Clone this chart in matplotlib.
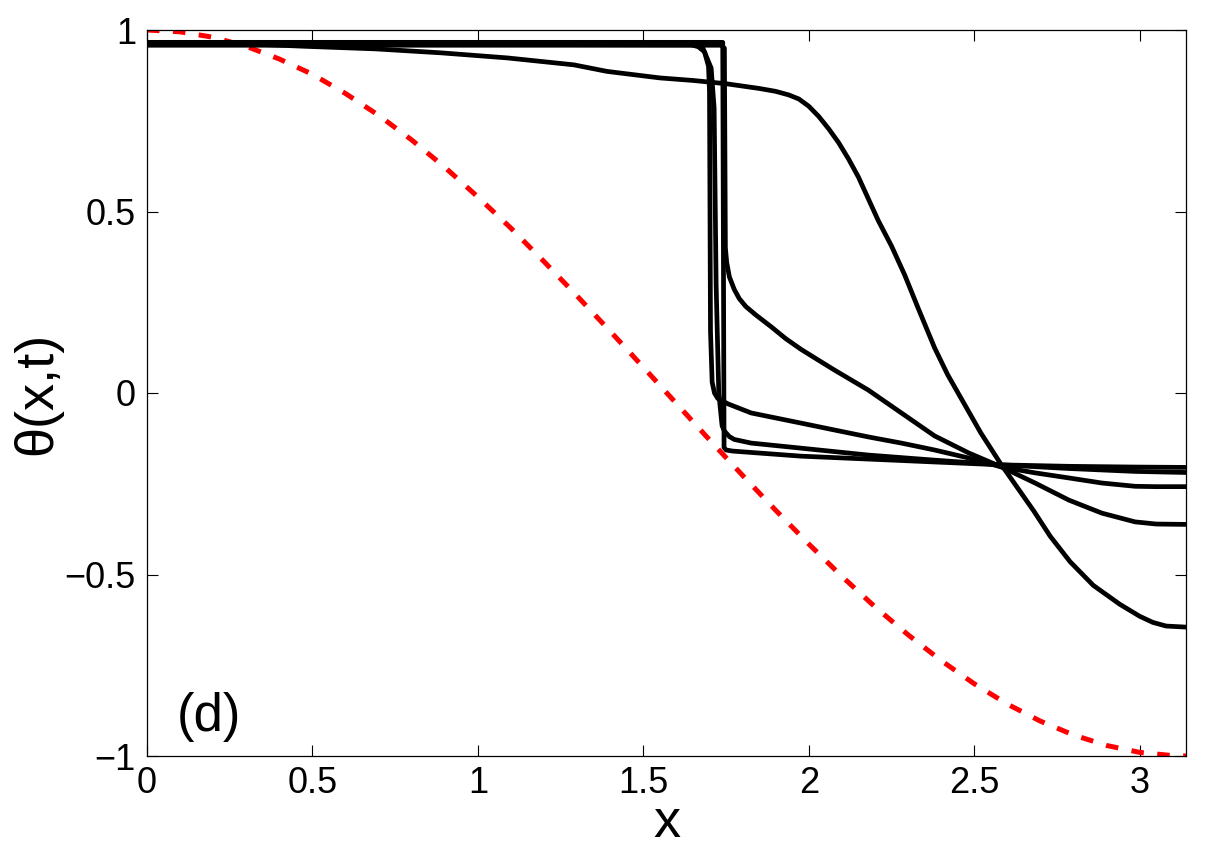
import matplotlib
matplotlib.use("Agg")
import matplotlib.pyplot as plt

plt.rcParams['font.family'] = ['Liberation Sans', 'DejaVu Sans']
plt.rcParams['axes.unicode_minus'] = True

# ---- data ----
# red dashed initial profile
red_x = [0.0, 0.1, 0.2, 0.3, 0.4, 0.5, 0.6, 0.7, 0.8, 0.9, 1.0, 1.1, 1.2, 1.3, 1.4,
         1.5, 1.6, 1.7, 1.8, 1.9, 2.0, 2.1, 2.2, 2.3, 2.4, 2.5, 2.6, 2.7, 2.8, 2.9,
         3.0, 3.1, 3.1416]
red_y = [1.0, 0.995, 0.98, 0.955, 0.92, 0.878, 0.825, 0.765, 0.697, 0.622, 0.54, 0.454,
         0.362, 0.267, 0.17, 0.071, -0.029, -0.129, -0.227, -0.323, -0.416, -0.505,
         -0.589, -0.666, -0.737, -0.801, -0.857, -0.904, -0.942, -0.971, -0.99, -0.999, -1.0]

# curve A (smooth front)
a_x = [0.0, 0.3, 0.48, 0.69, 0.89, 1.09, 1.29, 1.39, 1.55, 1.65, 1.75, 1.85, 1.90, 1.94,
       1.97, 2.00, 2.03, 2.06, 2.09, 2.12, 2.15, 2.18, 2.21, 2.25, 2.29, 2.33, 2.38, 2.42,
       2.47, 2.52, 2.58, 2.63, 2.68, 2.73, 2.79, 2.86, 2.94, 3.00, 3.04, 3.08, 3.1416]
a_y = [0.965, 0.962, 0.955, 0.948, 0.937, 0.923, 0.904, 0.886, 0.868, 0.861, 0.852, 0.839,
       0.831, 0.821, 0.810, 0.790, 0.762, 0.728, 0.690, 0.645, 0.595, 0.535, 0.475, 0.405,
       0.325, 0.235, 0.125, 0.05, -0.03, -0.11, -0.195, -0.26, -0.325, -0.395, -0.465,
       -0.53, -0.582, -0.615, -0.632, -0.642, -0.645]

# curve B (shock to 0.38, then decay)
b_x = [0.0, 1.735, 1.745, 1.748, 1.752, 1.76, 1.775, 1.79, 1.81, 1.84, 1.887, 1.93, 1.977,
       2.03, 2.078, 2.18, 2.28, 2.38, 2.483, 2.583, 2.684, 2.786, 2.886, 2.986, 3.05, 3.1416]
b_y = [0.958, 0.958, 0.95, 0.40, 0.36, 0.32, 0.285, 0.26, 0.238, 0.215, 0.182, 0.15, 0.12,
       0.09, 0.063, 0.008, -0.055, -0.118, -0.165, -0.204, -0.248, -0.295, -0.331, -0.355,
       -0.361, -0.362]

# curve C (shock at 1.70 to ~0)
c_x = [0.0, 1.645, 1.666, 1.685, 1.697, 1.70, 1.703, 1.708, 1.715, 1.725, 1.756, 1.826,
       1.977, 2.078, 2.18, 2.28, 2.38, 2.483, 2.583, 2.684, 2.786, 2.886, 2.986, 3.05, 3.1416]
c_y = [0.962, 0.959, 0.954, 0.94, 0.90, 0.83, 0.17, 0.03, 0.0, -0.015, -0.03, -0.055,
       -0.083, -0.102, -0.121, -0.138, -0.157, -0.179, -0.204, -0.22, -0.234, -0.248,
       -0.257, -0.258, -0.258]

# curve D (shock near 1.72 to -0.10)
d_x = [0.0, 1.675, 1.705, 1.714, 1.72, 1.728, 1.738, 1.745, 1.76, 1.775, 1.826, 1.977,
       2.18, 2.38, 2.583, 2.786, 2.986, 3.1416]
d_y = [0.964, 0.961, 0.895, 0.785, 0.30, 0.0, -0.09, -0.105, -0.12, -0.128, -0.138,
       -0.152, -0.171, -0.185, -0.198, -0.208, -0.216, -0.219]

# curve E (shock at 1.74 to -0.15)
e_x = [0.0, 1.740, 1.744, 1.75, 1.77, 1.977, 2.18, 2.38, 2.583, 2.786, 2.986, 3.1416]
e_y = [0.966, 0.966, -0.15, -0.157, -0.16, -0.174, -0.182, -0.19, -0.198, -0.202,
       -0.204, -0.205]

x_ticks = [0, 0.5, 1, 1.5, 2, 2.5, 3]
x_tick_labels = ['0', '0.5', '1', '1.5', '2', '2.5', '3']
y_ticks = [-1, -0.5, 0, 0.5, 1]
y_tick_labels = ['\u22121', '\u22120.5', '0', '0.5', '1']

# ---- figure ----
fig = plt.figure(figsize=(12.21, 8.60), dpi=100)
ax = fig.add_axes([147 / 1221, 104 / 860, 1039.5 / 1221, 726 / 860])

ax.plot(red_x, red_y, color='#ff0000', lw=3.6, dashes=(2.5, 2.7), zorder=2)
for xs, ys in [(a_x, a_y), (b_x, b_y), (c_x, c_y), (d_x, d_y), (e_x, e_y)]:
    ax.plot(xs, ys, color='black', lw=3.4, zorder=3)

ax.set_xlim(0, 3.1416)
ax.set_ylim(-1, 1)
ax.set_xticks(x_ticks)
ax.set_xticklabels(x_tick_labels)
ax.set_yticks(y_ticks)
ax.set_yticklabels(y_tick_labels)
ax.tick_params(direction='in', top=True, right=True, length=8, width=0.8,
               labelsize=26, pad=7)
ax.tick_params(axis='y', pad=8)
for s in ax.spines.values():
    s.set_linewidth(0.9)

ax.set_xlabel('x', fontsize=39)
ax.xaxis.set_label_coords(0.5, -0.058)
ax.set_ylabel('\u03b8(x,t)', fontsize=39)
ax.yaxis.set_label_coords(-0.082, 0.5)

ax.text(0.09, -0.893, '(d)', fontsize=38, va='center', ha='left')

fig.savefig('out.png', dpi=100)
